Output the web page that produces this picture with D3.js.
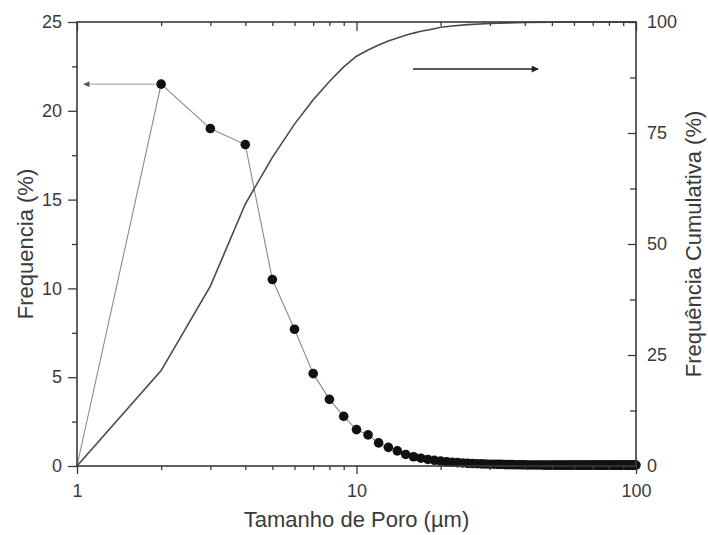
<!DOCTYPE html>
<html>
<head>
<meta charset="utf-8">
<script src="https://cdn.jsdelivr.net/npm/d3@7"></script>
<style>
  html, body { margin: 0; padding: 0; background: #fff; }
  svg { display: block; font-family: "Liberation Sans", Arial, sans-serif; }
</style>
</head>
<body>
<svg id="chart" width="708" height="535"></svg>
<script>
// Pore size classes (µm)
const poreSize = [
  1, 2, 3, 4, 5, 6, 7, 8, 9, 10,
  11, 12, 13, 14, 15, 16, 17, 18, 19, 20,
  21, 22, 23, 24, 25, 26, 27, 28, 29, 30,
  31, 32, 33, 34, 35, 36, 37, 38, 39, 40,
  41, 42, 43, 44, 45, 46, 47, 48, 49, 50,
  51, 52, 53, 54, 55, 56, 57, 58, 59, 60,
  61, 62, 63, 64, 65, 66, 67, 68, 69, 70,
  71, 72, 73, 74, 75, 76, 77, 78, 79, 80,
  81, 82, 83, 84, 85, 86, 87, 88, 89, 90,
  91, 92, 93, 94, 95, 96, 97, 98, 99, 100
];

// Frequency per class (%)
const frequency = [
  0, 21.5, 19.0, 18.1, 10.5, 7.7, 5.2, 3.75, 2.8, 2.05,
  1.75, 1.3, 1.05, 0.85, 0.65, 0.52, 0.44, 0.37, 0.32, 0.28,
  0.24, 0.21, 0.19, 0.17, 0.15, 0.14, 0.13, 0.12, 0.11, 0.10,
  0.10, 0.09, 0.09, 0.08, 0.08, 0.08, 0.07, 0.07, 0.07, 0.07,
  0.06, 0.06, 0.06, 0.06, 0.06, 0.06, 0.05, 0.05, 0.05, 0.05,
  0.05, 0.05, 0.05, 0.05, 0.05, 0.05, 0.05, 0.05, 0.05, 0.05,
  0.05, 0.05, 0.05, 0.05, 0.05, 0.05, 0.05, 0.05, 0.05, 0.05,
  0.05, 0.05, 0.05, 0.05, 0.05, 0.05, 0.05, 0.05, 0.05, 0.05,
  0.05, 0.05, 0.05, 0.05, 0.05, 0.05, 0.05, 0.05, 0.05, 0.05,
  0.05, 0.05, 0.05, 0.05, 0.05, 0.05, 0.05, 0.05, 0.05, 0.05
];

// Cumulative frequency (%) at selected pore sizes
const cumSize = [1, 2, 3, 4, 5, 6, 7, 8, 9, 10, 11, 12, 13, 14, 15, 16, 17, 18, 19, 20, 22, 25, 30, 35, 40, 50, 60, 70, 80, 100];
const cumulative = [0, 21.5, 40.5, 59.0, 69.5, 77.0, 82.5, 86.6, 89.9, 92.3, 93.7, 94.8, 95.7, 96.4, 97.0, 97.5, 97.9, 98.2, 98.5, 98.8, 99.1, 99.4, 99.65, 99.8, 99.88, 99.95, 100, 100, 100, 100];

const xTicks = [1, 10, 100];
const yLeftTicks = [0, 5, 10, 15, 20, 25];
const yRightTicks = [0, 25, 50, 75, 100];

const svg = d3.select("#chart");
const m = { left: 77, right: 636, top: 22, bottom: 466 };

const x = d3.scaleLog().domain([1, 100]).range([m.left, m.right]);
const yL = d3.scaleLinear().domain([0, 25]).range([m.bottom, m.top]);
const yR = d3.scaleLinear().domain([0, 100]).range([m.bottom, m.top]);

const axisColor = "#3a3a3a";
const textColor = "#3a3a3a";
const tickFont = "18px";
const titleFont = "22px";

// minor log ticks 2..9 and 20..90
const xMinor = [];
[1, 10].forEach(d => { for (let k = 2; k <= 9; k++) xMinor.push(d * k); });

// Data lines
const freqLine = d3.line().x((d, i) => x(poreSize[i])).y(d => yL(d));
svg.append("path")
  .datum(frequency)
  .attr("d", freqLine)
  .attr("fill", "none")
  .attr("stroke", "#8a8a8a")
  .attr("stroke-width", 1.1);

const cumLine = d3.line().x((d, i) => x(cumSize[i])).y(d => yR(d));
svg.append("path")
  .datum(cumulative)
  .attr("d", cumLine)
  .attr("fill", "none")
  .attr("stroke", "#4a4a4a")
  .attr("stroke-width", 1.6);

// Frequency markers
svg.append("g")
  .selectAll("circle")
  .data(frequency.slice(1))
  .join("circle")
  .attr("cx", (d, i) => x(poreSize[i + 1]))
  .attr("cy", d => yL(d))
  .attr("r", 4.8)
  .attr("fill", "#111");

// Frame
svg.append("rect")
  .attr("x", m.left).attr("y", m.top)
  .attr("width", m.right - m.left).attr("height", m.bottom - m.top)
  .attr("fill", "none").attr("stroke", axisColor).attr("stroke-width", 1.6);

// Bottom axis (ticks outward)
svg.append("g").attr("transform", `translate(0,${m.bottom})`)
  .call(d3.axisBottom(x).tickValues(xTicks).tickFormat(d3.format("d")).tickSize(8).tickPadding(10));
svg.append("g").attr("transform", `translate(0,${m.bottom})`)
  .call(d3.axisBottom(x).tickValues(xMinor).tickFormat("").tickSize(4));

// Top axis (ticks inward)
svg.append("g").attr("transform", `translate(0,${m.top})`)
  .call(d3.axisBottom(x).tickValues(xTicks).tickFormat("").tickSize(9));
svg.append("g").attr("transform", `translate(0,${m.top})`)
  .call(d3.axisBottom(x).tickValues(xMinor).tickFormat("").tickSize(4));

// Left axis (ticks outward)
const leftMinor = yLeftTicks.slice(0, -1).map(v => v + 2.5);
svg.append("g").attr("transform", `translate(${m.left},0)`)
  .call(d3.axisLeft(yL).tickValues(yLeftTicks).tickSize(9).tickPadding(6));
svg.append("g").attr("transform", `translate(${m.left},0)`)
  .call(d3.axisLeft(yL).tickValues(leftMinor).tickFormat("").tickSize(5));

// Right axis (ticks inward, labels outside)
const rightMinor = yRightTicks.slice(0, -1).map(v => v + 12.5);
svg.append("g").attr("transform", `translate(${m.right},0)`)
  .call(d3.axisLeft(yR).tickValues(yRightTicks).tickFormat("").tickSize(8));
svg.append("g").attr("transform", `translate(${m.right},0)`)
  .call(d3.axisLeft(yR).tickValues(rightMinor).tickFormat("").tickSize(6));
svg.append("g").attr("transform", `translate(${m.right},0)`)
  .call(d3.axisRight(yR).tickValues(yRightTicks).tickSize(0).tickPadding(11));

svg.selectAll(".domain").remove();
svg.selectAll(".tick line").attr("stroke", axisColor).attr("stroke-width", 1.3);
svg.selectAll(".tick text")
  .attr("fill", textColor)
  .style("font-size", tickFont)
  .style("font-family", "'Liberation Sans', Arial, sans-serif");

// Axis titles
svg.append("text")
  .attr("x", (m.left + m.right) / 2).attr("y", 527)
  .attr("text-anchor", "middle")
  .attr("fill", textColor)
  .style("font-size", titleFont)
  .text("Tamanho de Poro (µm)");

svg.append("text")
  .attr("transform", `translate(33,${(m.top + m.bottom) / 2}) rotate(-90)`)
  .attr("text-anchor", "middle")
  .attr("fill", textColor)
  .style("font-size", titleFont)
  .text("Frequencia (%)");

svg.append("text")
  .attr("transform", `translate(701,${(m.top + m.bottom) / 2}) rotate(-90)`)
  .attr("text-anchor", "middle")
  .attr("fill", textColor)
  .style("font-size", titleFont)
  .text("Frequência Cumulativa (%)");

// Arrows pointing each series to its axis
const defs = svg.append("defs");
defs.append("marker")
  .attr("id", "headL").attr("viewBox", "0 0 10 10")
  .attr("refX", 9).attr("refY", 5)
  .attr("markerWidth", 8).attr("markerHeight", 6)
  .attr("markerUnits", "userSpaceOnUse")
  .attr("orient", "auto")
  .append("path").attr("d", "M0,0 L10,5 L0,10 z").attr("fill", "#555");
defs.append("marker")
  .attr("id", "headR").attr("viewBox", "0 0 10 10")
  .attr("refX", 9).attr("refY", 5)
  .attr("markerWidth", 12).attr("markerHeight", 7)
  .attr("markerUnits", "userSpaceOnUse")
  .attr("orient", "auto")
  .append("path").attr("d", "M0,0 L10,5 L0,10 z").attr("fill", "#222");

svg.append("line")
  .attr("x1", x(2) - 6).attr("y1", yL(21.5))
  .attr("x2", 84).attr("y2", yL(21.5))
  .attr("stroke", "#999").attr("stroke-width", 1)
  .attr("marker-end", "url(#headL)");

svg.append("line")
  .attr("x1", 413).attr("y1", 69)
  .attr("x2", 538).attr("y2", 69)
  .attr("stroke", "#222").attr("stroke-width", 1.5)
  .attr("marker-end", "url(#headR)");
</script>
</body>
</html>
